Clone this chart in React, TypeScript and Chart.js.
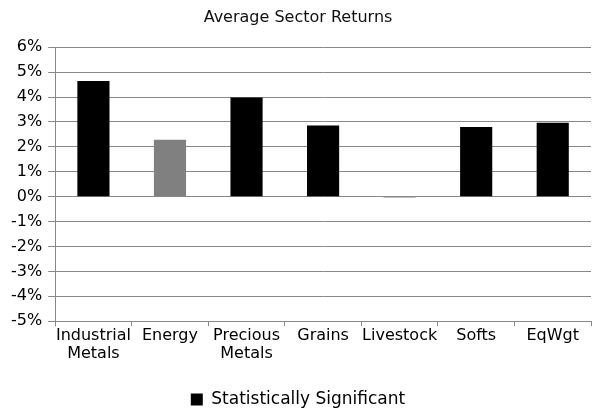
import React, { useEffect, useRef } from "react";
import { Chart, registerables } from "chart.js";

Chart.register(...registerables);

const categories: (string | string[])[] = [
  ["Industrial", "Metals"],
  "Energy",
  ["Precious", "Metals"],
  "Grains",
  "Livestock",
  "Softs",
  "EqWgt",
];
const returnsPct = [4.64, 2.28, 3.98, 2.86, -0.04, 2.8, 2.97];
const significant = [true, false, true, true, false, true, true];
const titleText = "Average Sector Returns";
const legendText = "Statistically Significant";

const FONT = "'DejaVu Sans', Verdana, sans-serif";

export default function App() {
  const ref = useRef<HTMLCanvasElement>(null);
  useEffect(() => {
    if (!ref.current) return;
    const chart = new Chart(ref.current, {
      type: "bar",
      data: {
        labels: categories,
        datasets: [
          {
            label: legendText,
            data: returnsPct,
            backgroundColor: significant.map((s) => (s ? "#000000" : "#808080")),
            borderWidth: 0,
            barPercentage: 0.42,
            categoryPercentage: 1,
          },
        ],
      },
      options: {
        animation: false,
        responsive: false,
        maintainAspectRatio: false,
        layout: { padding: { left: 5, right: 16, top: 0, bottom: -9 } },
        plugins: {
          title: {
            display: true,
            text: titleText,
            color: "#111",
            font: { family: FONT, size: 16, weight: "normal" },
            padding: { top: 8, bottom: 20 },
          },
          legend: {
            position: "bottom",
            labels: {
              color: "#000",
              font: { family: FONT, size: 17 },
              boxWidth: 12,
              boxHeight: 12,
              padding: 1,
              generateLabels: () => [
                {
                  text: legendText,
                  fillStyle: "#000",
                  strokeStyle: "#000",
                  lineWidth: 0,
                  hidden: false,
                  datasetIndex: 0,
                },
              ],
            },
          },
          tooltip: { enabled: false },
        },
        scales: {
          x: {
            grid: {
              drawOnChartArea: false,
              drawTicks: true,
              tickLength: 5,
              color: "#888",
            },
            border: { color: "#888", width: 1 },
            ticks: {
              color: "#000",
              font: { family: FONT, size: 16, lineHeight: 1.15 },
              padding: 0,
              maxRotation: 0,
              autoSkip: false,
            },
            afterFit: (scale: any) => {
              scale.height += 27;
            },
          },
          y: {
            min: -5,
            max: 6,
            grid: { color: "#888", tickLength: 7, lineWidth: 1 },
            border: { color: "#888", width: 1 },
            ticks: {
              stepSize: 1,
              color: "#000",
              font: { family: FONT, size: 16 },
              padding: 6,
              callback: (v: any) => `${v}%`,
            },
          },
        },
      },
    });
    return () => chart.destroy();
  }, []);
  return (
    <div style={{ position: "absolute", left: 0, top: 0, width: 607, height: 409, background: "#fff" }}>
      <canvas ref={ref} width={607} height={409} style={{ display: "block" }} />
    </div>
  );
}
